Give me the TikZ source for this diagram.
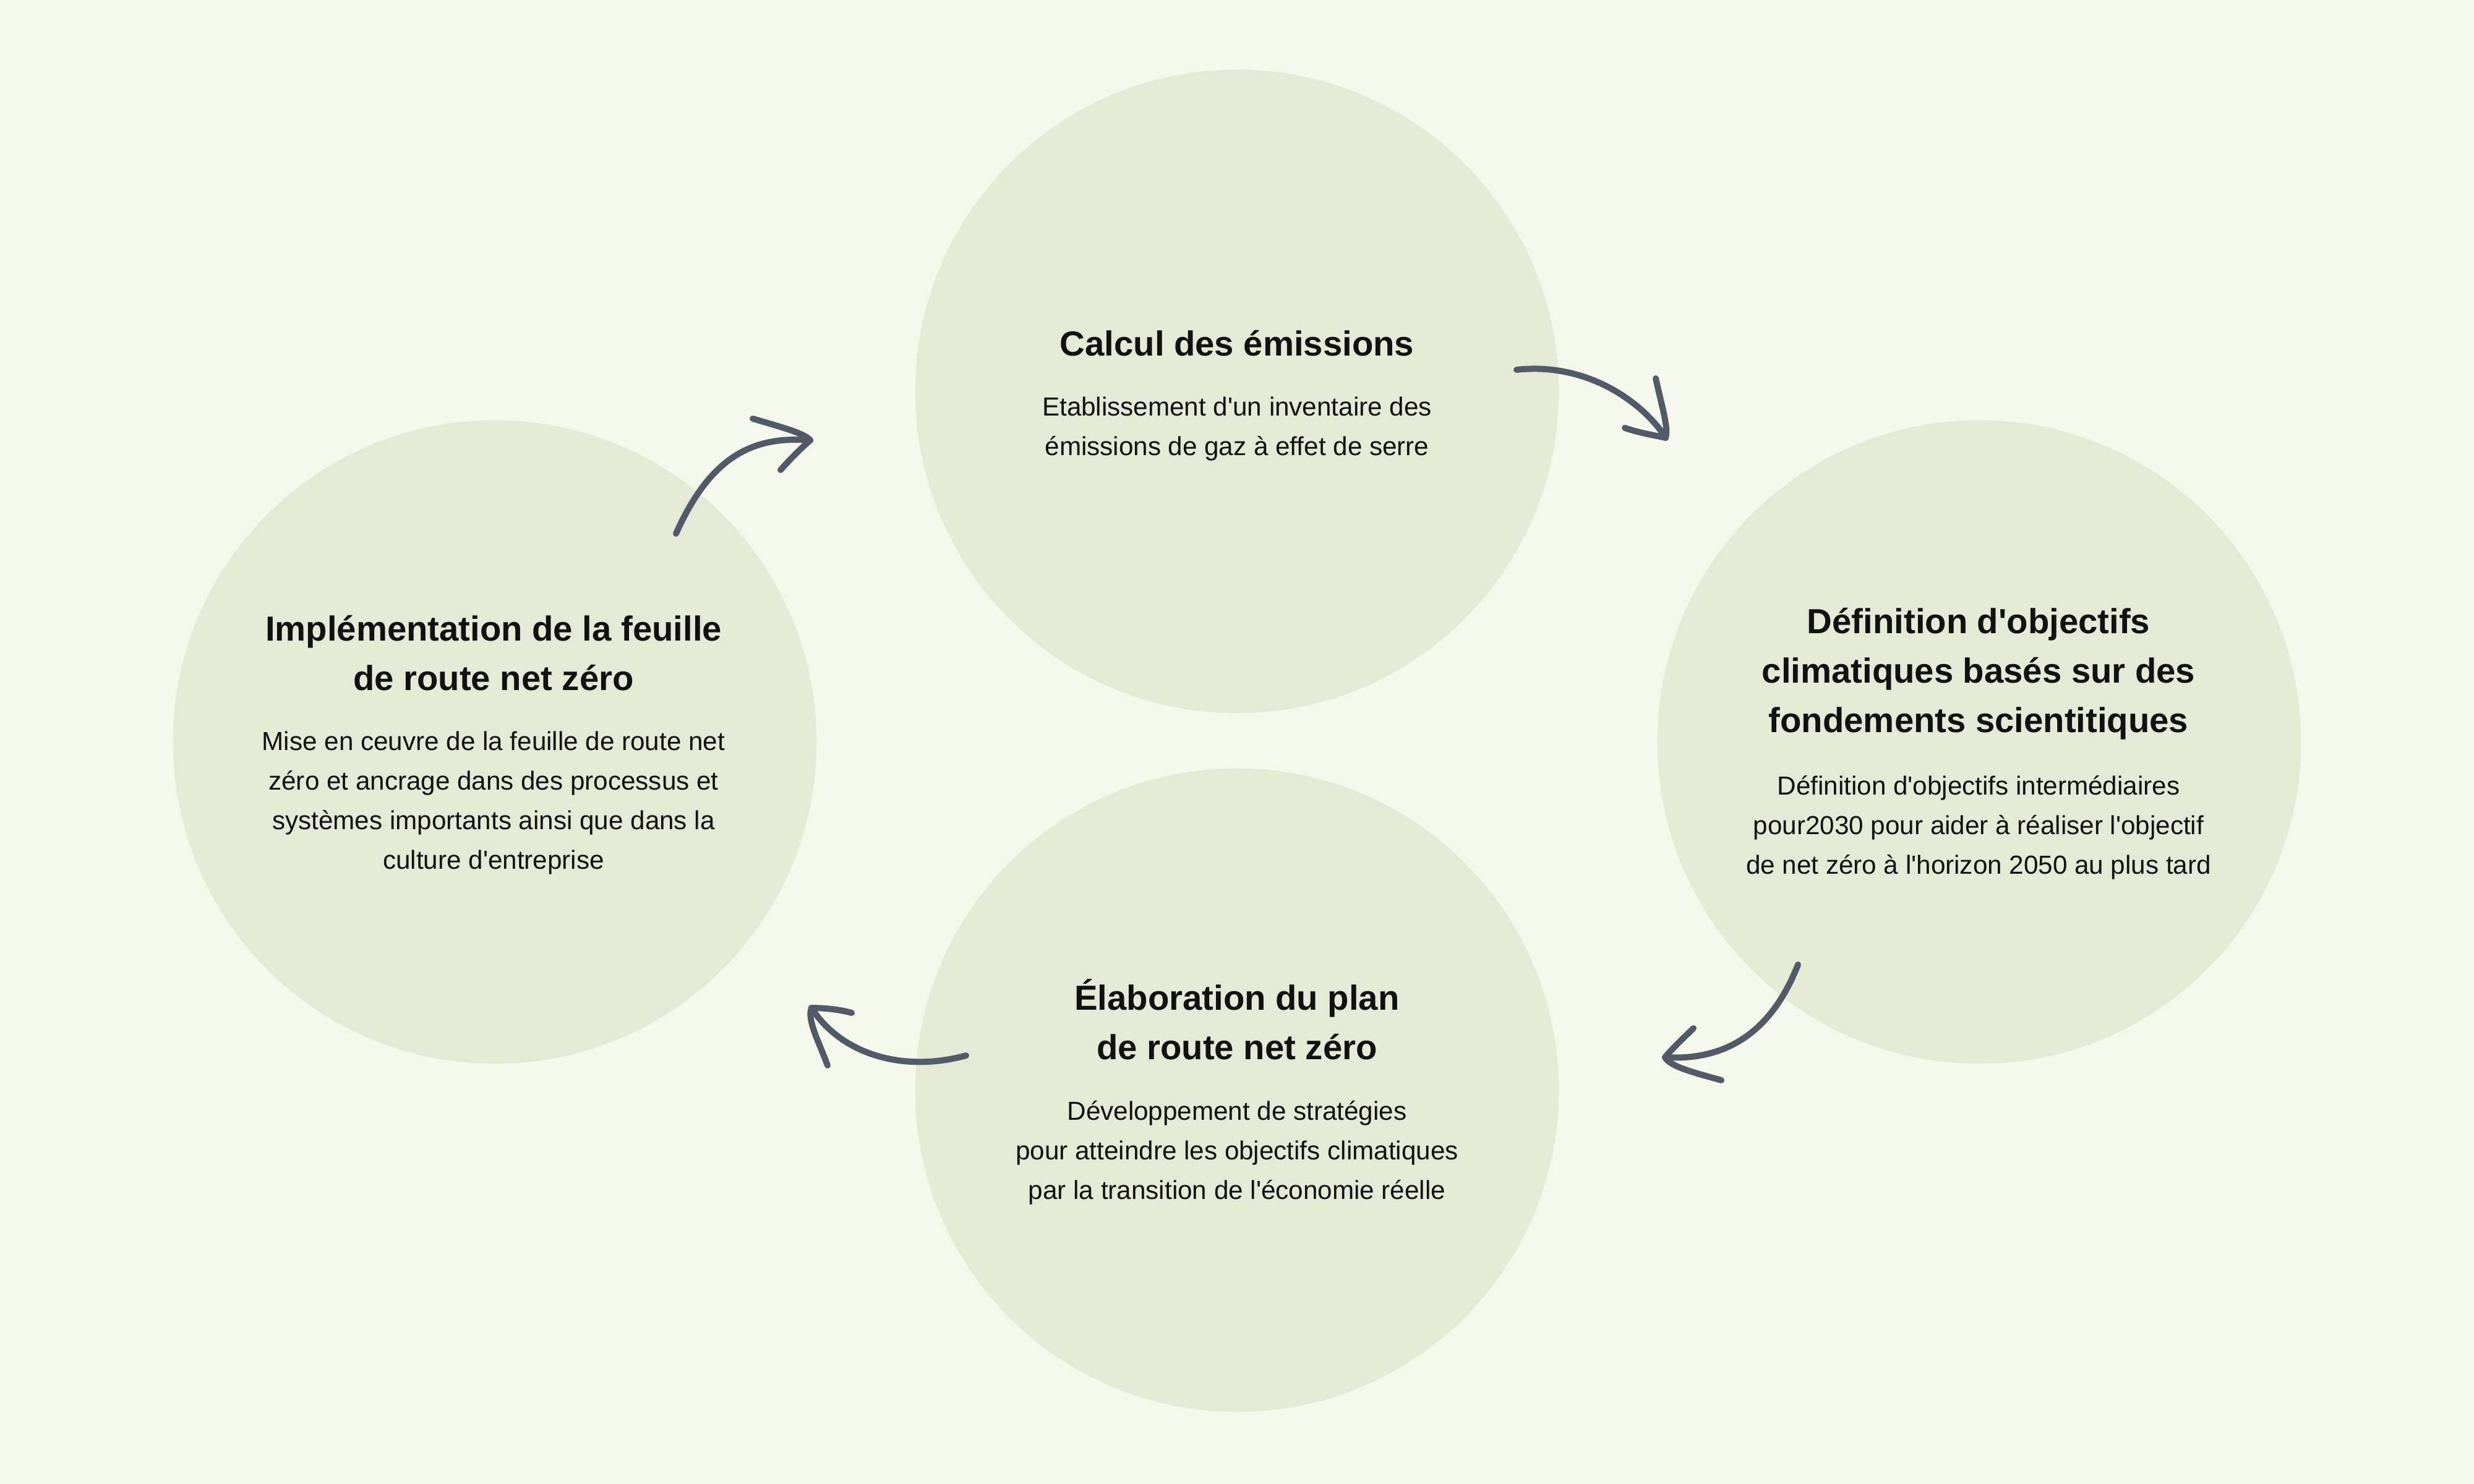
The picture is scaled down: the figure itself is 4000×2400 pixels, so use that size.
\documentclass[tikz,border=0pt]{standalone}
\usepackage{fontspec}
\newfontfamily\diagfont{Liberation Sans}
\definecolor{bgc}{RGB}{244,248,234}
\definecolor{circc}{RGB}{229,234,214}
\definecolor{arrc}{RGB}{82,89,104}
\definecolor{txtc}{RGB}{17,17,17}
\begin{document}
\begin{tikzpicture}[x=0.01cm,y=-0.01cm,
  stage/.style={circle,fill=circc,minimum size=10.4cm,inner sep=0pt},
  ttl/.style={align=center,font=\diagfont\fontsize{16}{22.8}\selectfont\bfseries,text=txtc,inner sep=0pt},
  bdy/.style={align=center,font=\diagfont\fontsize{12}{18.2}\selectfont,text=txtc,inner sep=0pt},
  sketch/.style={draw=arrc,line width=0.1cm,line cap=round,line join=round}]
\fill[bgc] (0,0) rectangle (4000,2400);
\useasboundingbox (0,0) rectangle (4000,2400);
\node[stage] (c1) at (2000,633) {};
\node[stage] (c2) at (3200,1200) {};
\node[stage] (c3) at (2000,1763) {};
\node[stage] (c4) at (800,1200) {};
% texts
\node[ttl] (t1) at (2000,555) {Calcul des émissions};
\node[bdy] (b1) at (2000,694) {Etablissement d'un inventaire des\\ émissions de gaz à effet de serre};
\node[ttl] (t2) at (3199,1090) {Définition d'objectifs\\climatiques basés sur des\\fondements scientitiques};
\node[bdy] (b2) at (3199,1338) {Définition d'objectifs intermédiaires\\pour2030 pour aider à réaliser l'objectif\\de net zéro à l'horizon 2050 au plus tard};
\node[ttl] (t3) at (2000,1649) {Élaboration du plan\\de route net zéro};
\node[bdy] (b3) at (2000,1864) {Développement de stratégies\\pour atteindre les objectifs climatiques\\par la transition de l'économie réelle};
\node[ttl] (t4) at (798,1056) {Implémentation de la feuille\\de route net zéro};
\node[bdy] (b4) at (798,1299) {Mise en ceuvre de la feuille de route net\\zéro et ancrage dans des processus et\\systèmes importants ainsi que dans la\\culture d'entreprise};
% arrow 1: top -> right
\coordinate (s1) at (2452,598);
\coordinate (e1) at (2693,708);
\coordinate (h1a) at (2677,612);
\coordinate (h1b) at (2627,692);
\draw[sketch] (s1) .. controls (2570,585) and (2660,655) .. (e1);
\draw[sketch] (h1a) .. controls (2690,670) and (2697,690) .. (e1);
\draw[sketch] (h1b) .. controls (2650,700) and (2670,703) .. (e1);
% arrow 2: right -> bottom
\coordinate (s2) at (2907,1560);
\coordinate (e2) at (2692,1710);
\coordinate (h2a) at (2738,1663);
\coordinate (h2b) at (2783,1747);
\draw[sketch] (s2) .. controls (2860,1680) and (2780,1715) .. (e2);
\draw[sketch] (h2a) .. controls (2715,1685) and (2700,1700) .. (e2);
\draw[sketch] (h2b) .. controls (2740,1735) and (2700,1725) .. (e2);
% arrow 3: bottom -> left
\coordinate (s3) at (1562,1707);
\coordinate (e3) at (1312,1630);
\coordinate (h3a) at (1377,1638);
\coordinate (h3b) at (1338,1723);
\draw[sketch] (s3) .. controls (1460,1735) and (1360,1705) .. (e3);
\draw[sketch] (h3a) .. controls (1355,1632) and (1330,1630) .. (e3);
\draw[sketch] (h3b) .. controls (1322,1680) and (1305,1650) .. (e3);
% arrow 4: left -> top
\coordinate (s4) at (1093,863);
\coordinate (e4) at (1310,712);
\coordinate (h4a) at (1217,677);
\coordinate (h4b) at (1262,760);
\draw[sketch] (s4) .. controls (1150,735) and (1220,705) .. (e4);
\draw[sketch] (h4a) .. controls (1260,690) and (1300,700) .. (e4);
\draw[sketch] (h4b) .. controls (1280,740) and (1295,725) .. (e4);
\end{tikzpicture}
\end{document}
